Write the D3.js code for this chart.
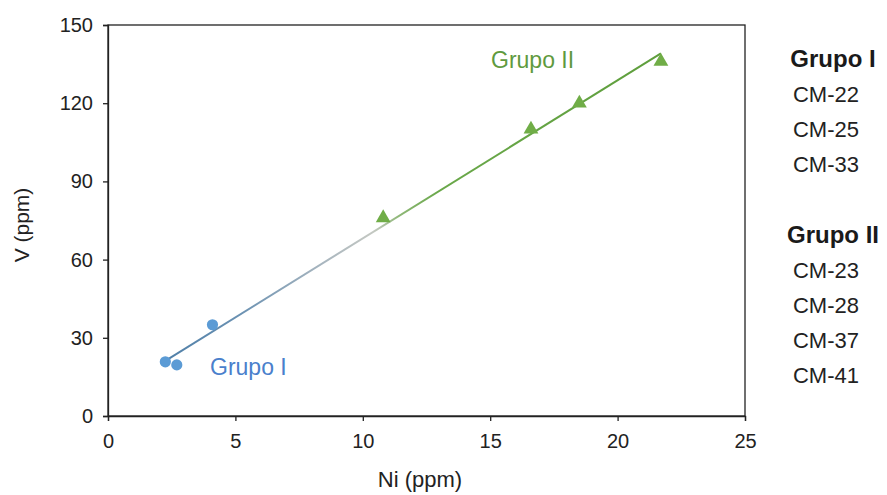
<!DOCTYPE html>
<html>
<head>
<meta charset="utf-8">
<script src="https://cdn.jsdelivr.net/npm/d3@7"></script>
<style>
  body { margin: 0; background: #fff; }
  text { font-family: "Liberation Sans", Arial, sans-serif; }
</style>
</head>
<body>
<div id="chart"></div>
<script>
// data
const grupoINi = [2.25, 2.7, 4.1];
const grupoIV = [20.8, 19.6, 35];
const grupoIINi = [10.8, 16.6, 18.5, 21.7];
const grupoIIV = [76, 110, 120, 136];
const grupoISamples = ["CM-22", "CM-25", "CM-33"];
const grupoIISamples = ["CM-23", "CM-28", "CM-37", "CM-41"];
const xTicks = [0, 5, 10, 15, 20, 25];
const yTicks = [0, 30, 60, 90, 120, 150];

const width = 887, height = 495;
const margin = { left: 108, right: 142, top: 25, bottom: 79 };

const svg = d3.select("#chart").append("svg")
  .attr("width", width)
  .attr("height", height);

const x = d3.scaleLinear().domain([0, 25]).range([margin.left, width - margin.right]);
const y = d3.scaleLinear().domain([0, 150]).range([height - margin.bottom, margin.top]);

// plot frame
svg.append("rect")
  .attr("x", x(0)).attr("y", y(150))
  .attr("width", x(25) - x(0)).attr("height", y(0) - y(150))
  .attr("fill", "none").attr("stroke", "#222").attr("stroke-width", 1.3);

const xAxis = svg.append("g")
  .attr("transform", "translate(0," + y(0) + ")")
  .call(d3.axisBottom(x).tickValues(xTicks).tickSize(5).tickPadding(13));
const yAxis = svg.append("g")
  .attr("transform", "translate(" + x(0) + ",0)")
  .call(d3.axisLeft(y).tickValues(yTicks).tickSize(5).tickPadding(10));

[xAxis, yAxis].forEach(function (a) {
  a.select(".domain").attr("stroke", "#222").attr("stroke-width", 1.3);
  a.selectAll(".tick line").attr("stroke", "#222").attr("stroke-width", 1.3);
  a.selectAll(".tick text")
    .attr("fill", "#222")
    .style("font-family", "'Liberation Sans', Arial, sans-serif")
    .style("font-size", "20px");
});

// axis titles
svg.append("text")
  .attr("transform", "translate(29,225) rotate(-90)")
  .attr("text-anchor", "middle")
  .attr("fill", "#222")
  .attr("font-size", "21px")
  .text("V (ppm)");
svg.append("text")
  .attr("x", 420).attr("y", 487)
  .attr("text-anchor", "middle")
  .attr("fill", "#222")
  .attr("font-size", "22px")
  .text("Ni (ppm)");

// linear trend over all samples
const allNi = grupoINi.concat(grupoIINi);
const allV = grupoIV.concat(grupoIIV);
const mx = d3.mean(allNi), my = d3.mean(allV);
const slope = d3.sum(allNi, (d, i) => (d - mx) * (allV[i] - my)) /
  d3.sum(allNi, d => (d - mx) * (d - mx));
const intercept = my - slope * mx;
const x0 = d3.min(allNi), x1 = d3.max(allNi);

const grad = svg.append("defs").append("linearGradient")
  .attr("id", "trendGrad")
  .attr("gradientUnits", "userSpaceOnUse")
  .attr("x1", x(x0)).attr("y1", y(slope * x0 + intercept))
  .attr("x2", x(x1)).attr("y2", y(slope * x1 + intercept));
[[0, "#4f7fa8"], [0.15, "#6a91b2"], [0.32, "#a9b6bf"], [0.42, "#c4c8c2"],
 [0.47, "#8fb878"], [0.55, "#6aa84a"], [1, "#5e9e3c"]].forEach(function (s) {
  grad.append("stop").attr("offset", s[0]).attr("stop-color", s[1]);
});

svg.append("line")
  .attr("x1", x(x0)).attr("y1", y(slope * x0 + intercept))
  .attr("x2", x(x1)).attr("y2", y(slope * x1 + intercept))
  .attr("stroke", "url(#trendGrad)")
  .attr("stroke-width", 2);

// Grupo I circles
svg.selectAll(".g1")
  .data(grupoINi)
  .enter().append("circle")
  .attr("class", "g1")
  .attr("cx", d => x(d))
  .attr("cy", (d, i) => y(grupoIV[i]))
  .attr("r", 5.6)
  .attr("fill", "#5b9bd5");

// Grupo II triangles
const tri = d3.symbol().type(d3.symbolTriangle).size(95);
svg.selectAll(".g2")
  .data(grupoIINi)
  .enter().append("path")
  .attr("class", "g2")
  .attr("transform", (d, i) => "translate(" + x(d) + "," + y(grupoIIV[i]) + ")")
  .attr("d", tri)
  .attr("fill", "#70ad47");

// labels inside the plot
svg.append("text")
  .attr("x", 210).attr("y", 375)
  .attr("fill", "#4a7fcc")
  .attr("font-size", "23px")
  .text("Grupo I");
svg.append("text")
  .attr("x", 491).attr("y", 68)
  .attr("fill", "#5f9a3e")
  .attr("font-size", "23px")
  .text("Grupo II");

// sample list on the right
function group(title, samples, top) {
  svg.append("text")
    .attr("x", 833).attr("y", top)
    .attr("text-anchor", "middle")
    .attr("font-weight", "bold")
    .attr("font-size", "24px")
    .attr("fill", "#1a1a1a")
    .text(title);
  svg.selectAll(null)
    .data(samples)
    .enter().append("text")
    .attr("x", 826)
    .attr("y", (d, i) => top + 35 + i * 35)
    .attr("text-anchor", "middle")
    .attr("font-size", "22px")
    .attr("fill", "#222")
    .text(d => d);
}
group("Grupo I", grupoISamples, 67);
group("Grupo II", grupoIISamples, 243);
</script>
</body>
</html>
